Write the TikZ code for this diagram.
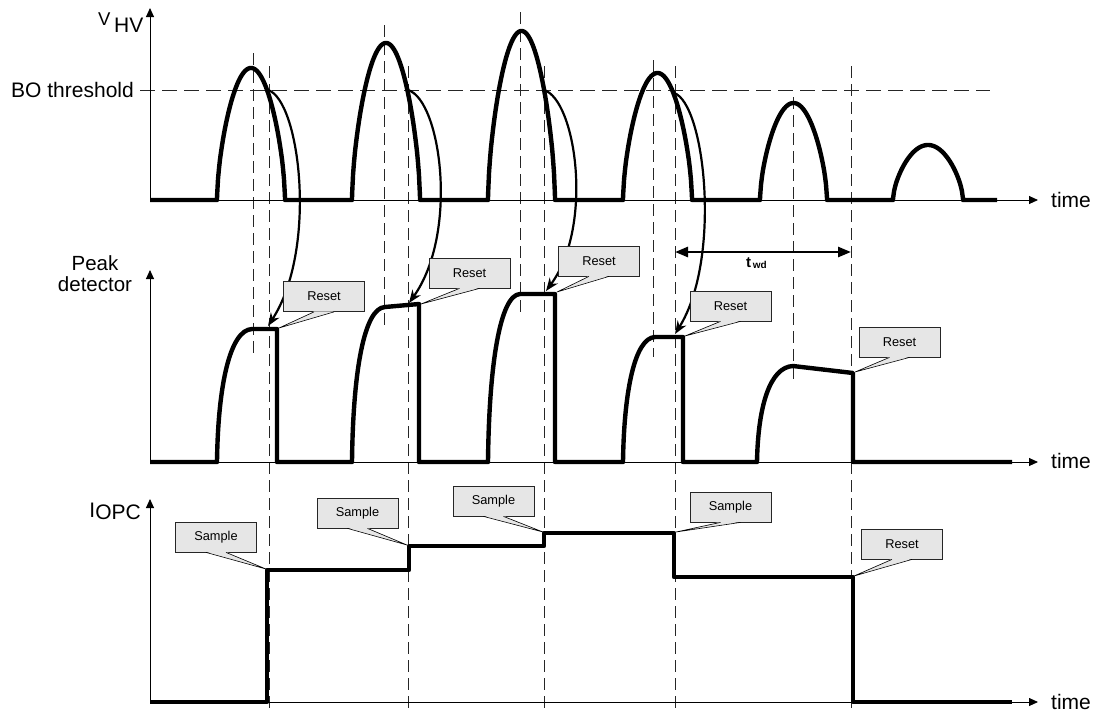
\documentclass[tikz,border=0pt]{standalone}
\usepackage{fontspec}
\setmainfont{Liberation Sans}
\usetikzlibrary{arrows.meta,calc}
\definecolor{callgray}{HTML}{E6E6E6}
\tikzset{
  wave/.style={line width=4.4pt, line join=round},
  axisline/.style={line width=0.9pt, -{Triangle[length=9pt,width=8pt]}},
  vdash/.style={line width=0.9pt, black!85, dash pattern=on 12pt off 6pt},
  thdash/.style={line width=0.9pt, black!85, dash pattern=on 15pt off 7pt},
  curvarrow/.style={line width=2.2pt, -{Stealth[length=13pt,width=10pt]}},
  twdarrow/.style={line width=2.6pt, {Triangle[length=13pt,width=10pt]}-{Triangle[length=13pt,width=10pt]}},
  callbox/.style={draw=black!85, line width=0.8pt, fill=callgray, minimum width=81pt,
    minimum height=30pt, inner sep=0pt, font=\fontsize{12.8}{14}\selectfont},
  lbl/.style={font=\fontsize{21}{23}\selectfont, inner sep=0pt},
}
\newcommand\callnode[4]{%
  \node[callbox] (#1) at (#2) {#3};
  \coordinate (#1tip) at (#4);
  \fill[callgray] ([xshift=-10pt,yshift=0.6pt]#1.south) -- (#1tip) -- ([xshift=10pt,yshift=0.6pt]#1.south) -- cycle;
  \draw[line width=0.6pt] ([xshift=-10pt]#1.south) -- (#1tip) -- ([xshift=10pt]#1.south);
}
\begin{document}
\begin{tikzpicture}[x=1pt,y=-1pt]
\useasboundingbox (0,0) rectangle (1095,713);

% dashed guide lines
\draw[thdash] (140,90) -- (990,90);
\foreach \xx/\ya/\yb in {253/53/358, 384/25/330, 520/12/317, 653/60/357, 793/97/380}
  \draw[vdash] (\xx,\ya) -- (\xx,\yb);
\foreach \xx in {269,408,544,675,851}
  \draw[vdash] (\xx,66) -- (\xx,713);

% axes
\draw[axisline] (150,200) -- (150,8);
\draw[axisline] (150,200) -- (1038,200);
\draw[axisline] (150,462) -- (150,270);
\draw[axisline] (150,462) -- (1038,462);
\draw[axisline] (150,702) -- (150,499);
\draw[axisline] (150,702) -- (1038,702);

% labels
\node[lbl, anchor=base west] (vv) at (98,25) {\fontsize{18.5}{20}\selectfont V};
\node[lbl, anchor=base west] (hv) at (114,32) {HV};
\node[lbl, anchor=base east] (bo) at (134,97) {BO threshold};
\node[lbl, anchor=base west] (time1) at (1051,207) {time};
\node[lbl, anchor=base west] (time2) at (1051,468) {time};
\node[lbl, anchor=base west] (time3) at (1051,709) {time};
\node[lbl, align=center, font=\fontsize{20.5}{21}\selectfont, anchor=center] (pk) at (95,274) {Peak\\detector};
\node[lbl, anchor=base east] (iopc) at (141,519) {\raisebox{1.5pt}{I}OPC};
\node[anchor=base west, inner sep=0pt, font=\bfseries\fontsize{15}{16}\selectfont] (twd) at (746,267)
  {t\raisebox{-1pt}{\fontsize{10}{11}\selectfont\,wd}};

% V_HV waveform
\draw[wave] (150,200) -- (217,200)
  -- plot[domain=0.2:179.8,samples=71] ({217+68*\x/180},{200-132*(sin(\x))^0.6}) -- (285,200)
  -- (352,200)
  -- plot[domain=0.2:179.8,samples=71] ({352+68*\x/180},{200-157*(sin(\x))^0.6}) -- (420,200)
  -- (488,200)
  -- plot[domain=0.2:179.8,samples=71] ({488+67*\x/180},{200-169*(sin(\x))^0.6}) -- (555,200)
  -- (623,200)
  -- plot[domain=0.2:179.8,samples=71] ({623+69*\x/180},{200-127*(sin(\x))^0.6}) -- (692,200)
  -- (760,200)
  -- plot[domain=0.2:179.8,samples=71] ({760+67*\x/180},{200-97*(sin(\x))^0.6}) -- (827,200)
  -- (893,200)
  -- plot[domain=0.2:179.8,samples=71] ({893+70*\x/180},{200-55*(sin(\x))^0.6}) -- (963,200)
  -- (997,200);

% Peak detector waveform
\draw[wave] (150,462) -- (217,462) .. controls (218,385) and (230,330) .. (252,329) -- (277,329) -- (277,462)
  -- (352,462) .. controls (353,372) and (364,308) .. (385,307) -- (419,304) -- (419,462)
  -- (488,462) .. controls (489,365) and (500,295) .. (520,294) -- (555,294) -- (555,462)
  -- (623,462) .. controls (624,390) and (635,338) .. (655,337) -- (683,337) -- (683,462)
  -- (757,462) .. controls (758,406) and (770,367) .. (793,366) -- (853,373) -- (853,462)
  -- (1012,462);

% IOPC waveform
\draw[wave] (150,702) -- (267,702) -- (267,570) -- (409,570) -- (409,546) -- (544,546) -- (544,533)
  -- (674,533) -- (674,577) -- (853,577) -- (853,702) -- (1012,702);

% curved arrows
\coordinate (c1s) at (268,90);  \coordinate (c1e) at (268,326);
\coordinate (c2s) at (408,90);  \coordinate (c2e) at (409,303);
\coordinate (c3s) at (544,90);  \coordinate (c3e) at (546,291);
\coordinate (c4s) at (674,93);  \coordinate (c4e) at (675,334);
\draw[curvarrow] (c1s) .. controls +(32,10) and +(50,-77) .. (c1e);
\draw[curvarrow] (c2s) .. controls +(33,10) and +(50,-70) .. (c2e);
\draw[curvarrow] (c3s) .. controls +(32,10) and +(48,-65) .. (c3e);
\draw[curvarrow] (c4s) .. controls +(31,10) and +(47,-75) .. (c4e);

% t_wd
\coordinate (tw1) at (675,252);
\coordinate (tw2) at (851,252);
\draw[twdarrow] (tw1) -- (tw2);

% callouts
\callnode{r1}{324,296.5}{Reset}{279,328}
\callnode{r2}{469.5,273}{Reset}{421,304}
\callnode{r3}{599,261}{Reset}{557,292}
\callnode{r4}{730.5,306}{Reset}{685,336}
\callnode{r5}{899.5,342}{Reset}{855,372}
\callnode{s1}{216,537}{Sample}{266,569}
\callnode{s2}{357.5,513}{Sample}{407,545}
\callnode{s3}{493.5,501}{Sample}{543,532}
\callnode{s4}{730.5,507}{Sample}{676,532}
\callnode{r6}{902,544}{Reset}{854,576}
\end{tikzpicture}
\end{document}
